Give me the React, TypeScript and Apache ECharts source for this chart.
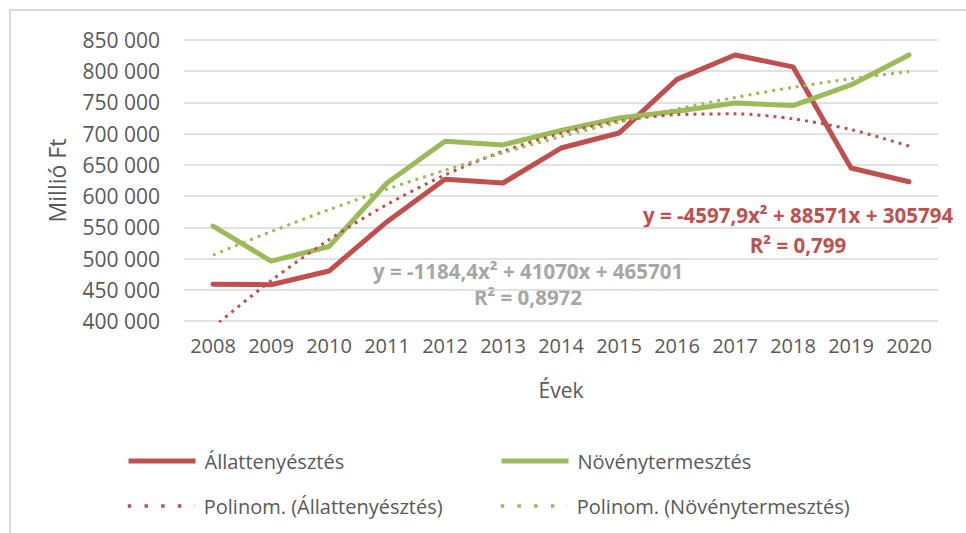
import React, { useEffect, useRef } from "react";
import * as echarts from "echarts";

const years = ["2008", "2009", "2010", "2011", "2012", "2013", "2014", "2015", "2016", "2017", "2018", "2019", "2020"];
const allattenyesztes = [459000, 458000, 480000, 559000, 627000, 621000, 677000, 701000, 787000, 826000, 807000, 645000, 623000];
const novenytermesztes = [552000, 496000, 519000, 621000, 688000, 682000, 705000, 725000, 736000, 749000, 745000, 778000, 826000];
const polinomAllat = [389767, 464544, 530126, 586512, 633701, 671696, 700494, 720096, 730503, 731714, 723729, 706548, 680172];
const polinomNoveny = [505587, 543103, 578251, 611031, 641441, 669483, 695155, 718459, 739395, 757961, 774159, 787987, 799447];

const names = ["Állattenyésztés", "Növénytermesztés", "Polinom. (Állattenyésztés)", "Polinom. (Növénytermesztés)"];
const redEq = "y = -4597,9x² + 88571x + 305794";
const redR2 = "R² = 0,799";
const greenEq = "y = -1184,4x² + 41070x + 465701";
const greenR2 = "R² = 0,8972";

const RED = "#C0504D";
const GREEN = "#9BBB59";
const TXT = "#595959";
const FONT = "'Open Sans', sans-serif";

export default function App() {
  const ref = useRef<HTMLDivElement>(null);
  useEffect(() => {
    if (!ref.current) return;
    const chart = echarts.init(ref.current, null, { renderer: "svg" });
    const legendBase = (name: string, left: number, top: number, solid: boolean, color: string) => ({
      data: [name],
      left,
      top,
      padding: 0,
      itemWidth: 67,
      itemHeight: 20,
      icon: "inherit",
      selectedMode: false,
      itemStyle: { opacity: 0 },
      textStyle: { color: TXT, fontSize: 20, fontFamily: FONT, padding: [0, 0, 0, 4] },
      lineStyle: solid
        ? { width: 5, type: "solid", color, cap: "butt", opacity: 1 }
        : { width: 3.5, type: [3.5, 13.2], color, cap: "butt", opacity: 1 },
    });
    chart.setOption({
      animation: false,
      backgroundColor: "#ffffff",
      textStyle: { fontFamily: FONT },
      grid: { left: 184, right: 28, top: 40, bottom: 212, containLabel: false },
      legend: [
        legendBase(names[0], 126, 451, true, RED),
        legendBase(names[1], 499, 451, true, GREEN),
        legendBase(names[2], 126, 496, false, RED),
        legendBase(names[3], 499, 496, false, GREEN),
      ],
      xAxis: {
        type: "category",
        data: years,
        boundaryGap: true,
        axisLine: { show: false },
        axisTick: { show: false },
        axisLabel: { color: TXT, fontSize: 20, fontFamily: FONT, margin: 14, interval: 0 },
        name: "Évek",
        nameLocation: "middle",
        nameGap: 58,
        nameTextStyle: { color: TXT, fontSize: 21, fontFamily: FONT },
      },
      yAxis: {
        type: "value",
        min: 400000,
        max: 850000,
        interval: 50000,
        axisLine: { show: false },
        axisTick: { show: false },
        splitLine: { lineStyle: { color: "#D9D9D9", width: 1.5 } },
        axisLabel: {
          color: TXT,
          fontSize: 21,
          fontFamily: FONT,
          margin: 24,
          formatter: (v: number) => String(v).replace(/\B(?=(\d{3})+(?!\d))/g, " "),
        },
        name: "Millió Ft",
        nameLocation: "middle",
        nameRotate: 90,
        nameGap: 116,
        nameTextStyle: { color: TXT, fontSize: 23, fontFamily: FONT },
      },
      series: [
        {
          name: names[0],
          type: "line",
          data: allattenyesztes,
          symbol: "none",
          lineStyle: { color: RED, width: 5, cap: "round", join: "round" },
          itemStyle: { color: RED },
        },
        {
          name: names[1],
          type: "line",
          data: novenytermesztes,
          symbol: "none",
          lineStyle: { color: GREEN, width: 5, cap: "round", join: "round" },
          itemStyle: { color: GREEN },
        },
        {
          name: names[2],
          type: "line",
          data: polinomAllat,
          symbol: "none",
          smooth: 0.3,
          lineStyle: { color: RED, width: 3, type: [3, 5], cap: "butt" },
          itemStyle: { color: RED },
        },
        {
          name: names[3],
          type: "line",
          data: polinomNoveny,
          symbol: "none",
          smooth: 0.3,
          lineStyle: { color: GREEN, width: 3, type: [3, 5], cap: "butt" },
          itemStyle: { color: GREEN },
        },
      ],
      graphic: [
        {
          type: "rect",
          shape: { x: 10, y: 10, width: 1200, height: 1200 },
          style: { fill: "none", stroke: "#D9D9D9", lineWidth: 2 },
          silent: true,
          z: -1,
        },
        {
          type: "text",
          x: 798,
          y: 215,
          style: { text: redEq, fill: RED, font: `bold 20.5px ${FONT}`, textAlign: "center", textVerticalAlign: "middle" },
        },
        {
          type: "text",
          x: 798,
          y: 245,
          style: { text: redR2, fill: RED, font: `bold 20.5px ${FONT}`, textAlign: "center", textVerticalAlign: "middle" },
        },
        {
          type: "text",
          x: 528,
          y: 271,
          style: { text: greenEq, fill: "#A6A6A6", font: `bold 20.5px ${FONT}`, textAlign: "center", textVerticalAlign: "middle" },
        },
        {
          type: "text",
          x: 528,
          y: 297,
          style: { text: greenR2, fill: "#A6A6A6", font: `bold 20.5px ${FONT}`, textAlign: "center", textVerticalAlign: "middle" },
        },
      ],
    });
    return () => chart.dispose();
  }, []);
  return <div ref={ref} style={{ position: "fixed", left: 0, top: 0, width: 966, height: 533 }} />;
}
